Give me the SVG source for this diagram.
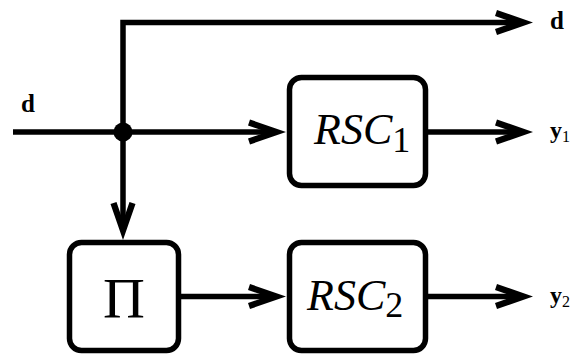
<svg xmlns="http://www.w3.org/2000/svg" width="573" height="356" viewBox="0 0 573 356">
<style>
.box{fill:#fff;stroke:#000;stroke-width:5.5}
.wire{fill:none;stroke:#000;stroke-width:5.5;stroke-linejoin:miter;marker-end:url(#ah)}
.lbl{font-family:"Liberation Serif","Times New Roman",serif;fill:#000}
.b{font-weight:bold}
.it{font-style:italic}
</style>
<defs>
<marker id="ah" markerUnits="userSpaceOnUse" orient="auto" refX="0" refY="0" markerWidth="60" markerHeight="40" overflow="visible">
<path d="M12,0 L-24,-12.5 L-26,-6.5 L-7,0 L-26,6.5 L-24,12.5 Z" fill="#000"/>
</marker>
</defs>
<g id="connectors">
<path class="wire" d="M123,132 L123,22.5 L521,22.5"/>
<path class="wire" d="M13,132 L274,132"/>
<path class="wire" d="M123,132 L123,228"/>
<path class="wire" d="M425.5,132 L521,132"/>
<path class="wire" d="M178.5,296.5 L274,296.5"/>
<path class="wire" d="M425.5,296.5 L521,296.5"/>
<circle cx="123" cy="132" r="9.5" fill="#000"/>
</g>
<g id="label-d-in"><text class="lbl b" x="21" y="112" font-size="25">d</text></g>
<g id="label-d-out"><text class="lbl b" x="550" y="29" font-size="25">d</text></g>
<g id="label-y1"><text class="lbl" x="550" y="138"><tspan class="b" font-size="24">y</tspan><tspan font-size="16" dy="4">1</tspan></text></g>
<g id="label-y2"><text class="lbl" x="550" y="302.5"><tspan class="b" font-size="24">y</tspan><tspan font-size="16" dy="4">2</tspan></text></g>
<g id="rsc1">
<rect class="box" x="289.5" y="77.5" width="136" height="108" rx="12"/>
<text class="lbl" x="314" y="144"><tspan class="it" font-size="44">RSC</tspan><tspan font-size="36" dy="8">1</tspan></text>
</g>
<g id="pi">
<rect class="box" x="69.5" y="242.5" width="109" height="108" rx="12"/>
<text class="lbl" x="124" y="318" font-size="58" text-anchor="middle">Π</text>
</g>
<g id="rsc2">
<rect class="box" x="289.5" y="242.5" width="136" height="108" rx="12"/>
<text class="lbl" x="307" y="310"><tspan class="it" font-size="44">RSC</tspan><tspan font-size="36" dy="7">2</tspan></text>
</g>
</svg>
